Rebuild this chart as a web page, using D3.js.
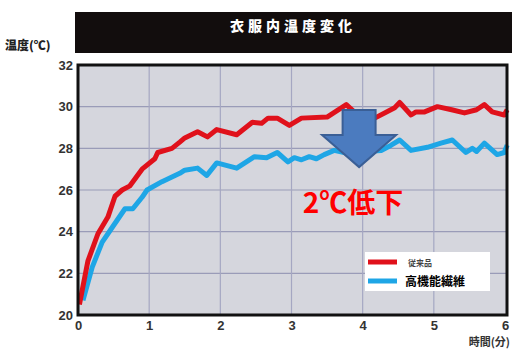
<!DOCTYPE html>
<html><head><meta charset="utf-8">
<script src="https://cdn.jsdelivr.net/npm/d3@7"></script>
<style>
html,body{margin:0;padding:0;background:#fff;}
svg{display:block;font-family:"Noto Sans CJK JP","Noto Sans",sans-serif;}
</style></head>
<body>
<svg id="c" width="512" height="349"></svg>
<script>
const title = "衣服内温度変化";
const yLabel = "温度(℃)";
const xLabel = "時間(分)";
const annotation = "2℃低下";
const seriesNames = ["従来品", "高機能繊維"];
const xTicks = [0, 1, 2, 3, 4, 5, 6];
const yTicks = [20, 22, 24, 26, 28, 30, 32];

// red: conventional
const redT = [0.02,0.14,0.28,0.42,0.52,0.62,0.73,0.9,1.08,1.12,1.32,1.43,1.5,1.68,1.82,1.95,2.23,2.45,2.58,2.67,2.8,2.97,3.14,3.5,3.77,3.88,4.17,4.45,4.52,4.68,4.75,4.87,5.05,5.25,5.43,5.6,5.71,5.82,5.99,6.03];
const redV = [20.5,22.6,23.9,24.7,25.7,26.0,26.2,27.0,27.5,27.8,28.0,28.3,28.5,28.8,28.55,28.9,28.65,29.25,29.2,29.45,29.45,29.1,29.45,29.5,30.1,29.75,29.45,29.95,30.2,29.6,29.75,29.75,30.0,29.85,29.7,29.85,30.1,29.75,29.6,29.85];
// blue: functional fibre
const blueT = [0.07,0.2,0.34,0.48,0.66,0.77,0.9,0.97,1.18,1.43,1.5,1.68,1.81,1.95,2.23,2.48,2.65,2.8,2.95,3.04,3.14,3.25,3.35,3.46,3.6,3.8,4.05,4.26,4.4,4.52,4.68,4.91,5.1,5.26,5.45,5.54,5.6,5.71,5.89,5.99,6.03];
const blueV = [20.7,22.3,23.5,24.2,25.1,25.1,25.65,26.0,26.4,26.8,26.95,27.05,26.7,27.3,27.05,27.6,27.55,27.8,27.35,27.55,27.45,27.6,27.5,27.7,27.9,27.75,27.85,27.9,28.15,28.4,27.9,28.05,28.25,28.4,27.8,28.0,27.85,28.25,27.7,27.8,28.15];

const svg = d3.select("#c");
const L = 78, R = 507, T = 65, B = 315;
const x = d3.scaleLinear().domain([0, 6]).range([L, R - 2]);
const y = d3.scaleLinear().domain([20, 32]).range([B, T]);

// title bar
svg.append("rect").attr("x", 75).attr("y", 12).attr("width", 437).attr("height", 41).attr("fill", "#120d0d");
svg.append("text").attr("x", 293).attr("y", 31).attr("text-anchor", "middle")
  .attr("fill", "#fff").attr("font-size", 14).attr("font-weight", "900").attr("letter-spacing", 4).text(title);

// plot background
svg.append("rect").attr("x", L).attr("y", T).attr("width", R - L).attr("height", B - T).attr("fill", "#d5d6dd");

// grid
const g = svg.append("g");
g.selectAll("line.h").data(yTicks.slice(1, -1)).join("line")
  .attr("x1", L).attr("x2", R).attr("y1", d => y(d)).attr("y2", d => y(d))
  .attr("stroke", "#9a9cb8").attr("stroke-width", 1.2);
g.selectAll("line.v").data(xTicks.slice(1, -1)).join("line")
  .attr("y1", T).attr("y2", B).attr("x1", d => x(d)).attr("x2", d => x(d))
  .attr("stroke", "#a5a7c2").attr("stroke-width", 1.2);

// lines
const line = d3.line().x(d => x(d[0])).y(d => y(d[1])).curve(d3.curveLinear);
svg.append("path").datum(blueT.map((t, i) => [t, blueV[i]]))
  .attr("d", line).attr("fill", "none").attr("stroke", "#1ea6e6").attr("stroke-width", 5).attr("stroke-linejoin", "round");
svg.append("path").datum(redT.map((t, i) => [t, redV[i]]))
  .attr("d", line).attr("fill", "none").attr("stroke", "#e0111b").attr("stroke-width", 5).attr("stroke-linejoin", "round");

// border
svg.append("rect").attr("x", L).attr("y", T).attr("width", R - L).attr("height", B - T)
  .attr("fill", "none").attr("stroke", "#111").attr("stroke-width", 3);

// axes
const yAxis = d3.axisLeft(y).tickValues(yTicks).tickSize(0).tickPadding(4).tickFormat(d3.format("d"));
const ya = svg.append("g").attr("transform", `translate(${L - 1},0)`).call(yAxis);
ya.select(".domain").remove();
ya.selectAll("text").attr("font-size", 13).attr("font-weight", "bold").attr("fill", "#333")
  .attr("font-family", "Liberation Sans, Arial, sans-serif");
const xAxis = d3.axisBottom(x).tickValues(xTicks).tickSize(0).tickPadding(5).tickFormat(d3.format("d"));
const xa = svg.append("g").attr("transform", `translate(0,${B + 1})`).call(xAxis);
xa.select(".domain").remove();
xa.selectAll("text").attr("font-size", 13).attr("font-weight", "bold").attr("fill", "#333")
  .attr("font-family", "Liberation Sans, Arial, sans-serif");

svg.append("text").attr("x", 5).attr("y", 50).attr("font-size", 12).attr("font-weight", "900").attr("fill", "#222").text(yLabel);
svg.append("text").attr("x", 510).attr("y", 346).attr("text-anchor", "end").attr("font-size", 11).attr("font-weight", "bold").attr("fill", "#333").text(xLabel);

// arrow
const ax = x(3.95), arTop = y(29.84), headY = y(28.64), tipY = y(27.1);
const sw = 16.5, hw = 37;
svg.append("path").attr("d",
  `M${ax - sw},${arTop} L${ax + sw},${arTop} L${ax + sw},${headY} L${ax + hw},${headY} L${ax},${tipY} L${ax - hw},${headY} L${ax - sw},${headY} Z`)
  .attr("fill", "#4b7bbf").attr("stroke", "#3a5f96").attr("stroke-width", 2).attr("stroke-linejoin", "miter");

svg.append("text").attr("x", 353).attr("y", 213).attr("text-anchor", "middle")
  .attr("font-size", 28).attr("font-weight", "bold").attr("fill", "#ff0000").text(annotation);

// legend
const lg = svg.append("g");
lg.append("rect").attr("x", 365).attr("y", 252).attr("width", 125).attr("height", 39).attr("fill", "#fff");
lg.append("line").attr("x1", 368).attr("x2", 397).attr("y1", 262).attr("y2", 262).attr("stroke", "#e0111b").attr("stroke-width", 5);
lg.append("line").attr("x1", 368).attr("x2", 397).attr("y1", 281).attr("y2", 281).attr("stroke", "#1ea6e6").attr("stroke-width", 5);
lg.append("text").attr("x", 408).attr("y", 266).attr("font-size", 8).attr("font-weight", "bold").attr("fill", "#444").text(seriesNames[0]);
lg.append("text").attr("x", 405).attr("y", 286).attr("font-size", 12).attr("font-weight", "bold").attr("fill", "#000").text(seriesNames[1]);
</script>
</body></html>
